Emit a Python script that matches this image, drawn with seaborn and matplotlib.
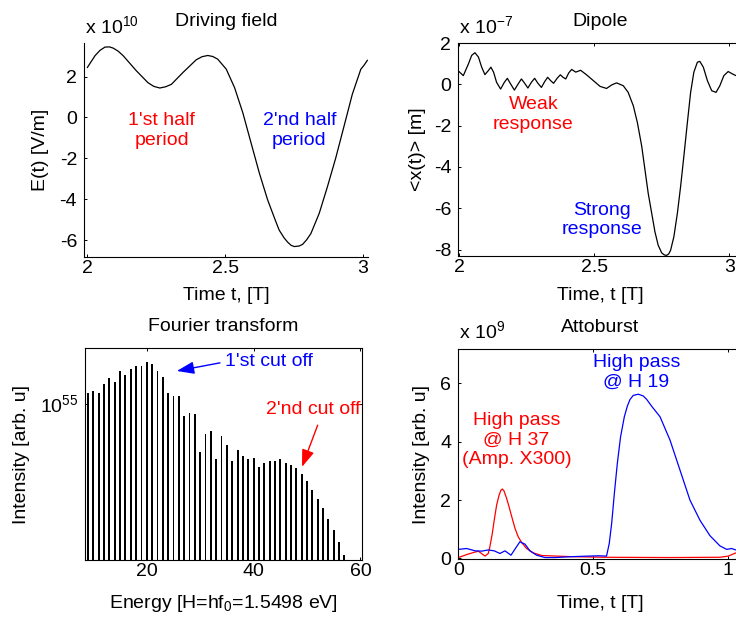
import numpy as np
import pandas as pd
import matplotlib
matplotlib.use("Agg")
import matplotlib.pyplot as plt
import seaborn as sns
from matplotlib.ticker import NullLocator
from matplotlib.transforms import ScaledTranslation

# ---------------- data ----------------
field_t = [2.000, 2.028, 2.046, 2.064, 2.080, 2.094, 2.112, 2.130, 2.178, 2.220, 2.241,
           2.263, 2.284, 2.305, 2.347, 2.395, 2.416, 2.437, 2.455, 2.473, 2.504, 2.534,
           2.564, 2.594, 2.624, 2.654, 2.684, 2.696, 2.714, 2.727, 2.739, 2.751, 2.769,
           2.781, 2.796, 2.811, 2.841, 2.871, 2.901, 2.931, 2.961, 2.992, 3.004, 3.016]
field_E = [2.44, 3.02, 3.28, 3.44, 3.45, 3.39, 3.24, 3.02, 2.28, 1.70, 1.52,
           1.44, 1.50, 1.62, 2.20, 2.82, 2.97, 3.03, 2.98, 2.85, 2.36, 1.46,
           0.23, -1.25, -2.72, -4.03, -5.10, -5.51, -5.89, -6.10, -6.25, -6.31, -6.28,
           -6.20, -5.97, -5.67, -4.69, -3.38, -1.98, -0.43, 1.13, 2.36, 2.56, 2.80]

dipole_t = [2.000, 2.016, 2.035, 2.047, 2.059, 2.072, 2.084, 2.096, 2.109, 2.118, 2.128,
            2.139, 2.154, 2.168, 2.179, 2.191, 2.205, 2.219, 2.231, 2.243, 2.255, 2.268,
            2.280, 2.292, 2.305, 2.317, 2.328, 2.339, 2.350, 2.363, 2.375, 2.385, 2.395,
            2.406, 2.417, 2.432, 2.450, 2.472, 2.497, 2.522, 2.546, 2.565, 2.583, 2.608,
            2.626, 2.645, 2.660, 2.676, 2.688, 2.700, 2.713, 2.725, 2.737, 2.750, 2.760,
            2.768, 2.776, 2.783, 2.795, 2.808, 2.820, 2.832, 2.845, 2.857, 2.869, 2.882,
            2.891, 2.904, 2.919, 2.935, 2.951, 2.965, 2.980, 2.996, 3.012, 3.025]
dipole_x = [0.62, 0.42, 0.99, 1.40, 1.53, 1.32, 0.83, 0.47, 0.67, 0.83, 0.59,
            0.10, -0.23, 0.10, 0.29, 0.02, -0.28, 0.02, 0.26, 0.05, -0.18, 0.10,
            0.29, 0.05, -0.15, 0.13, 0.34, 0.18, 0.05, 0.29, 0.46, 0.34, 0.26,
            0.55, 0.72, 0.59, 0.68, 0.46, 0.18, -0.10, -0.20, -0.03, 0.07, -0.07,
            -0.39, -1.04, -1.85, -2.99, -4.13, -5.27, -6.24, -7.14, -7.79, -8.16, -8.26,
            -8.28, -8.21, -8.03, -7.38, -6.24, -4.94, -3.48, -1.85, -0.39, 0.59, 1.07,
            1.11, 0.83, 0.18, -0.31, -0.39, -0.07, 0.42, 0.62, 0.50, 0.42]

harmonic_order = list(range(9, 58))
spectrum_log10 = [55.06, 55.07, 55.06, 55.11, 55.14, 55.12, 55.18, 55.16, 55.19, 55.21,
                  55.21, 55.23, 55.22, 55.18, 55.15, 55.06, 55.04, 55.04, 54.93, 54.95,
                  54.94, 54.73, 54.83, 54.85, 54.69, 54.82, 54.77, 54.68, 54.74, 54.71,
                  54.69, 54.70, 54.65, 54.67, 54.68, 54.68, 54.69, 54.67, 54.66, 54.64,
                  54.61, 54.57, 54.52, 54.47, 54.42, 54.36, 54.30, 54.23, 54.16]

h19_t = [0.000, 0.031, 0.062, 0.086, 0.111, 0.133, 0.154, 0.173, 0.195, 0.228, 0.247,
         0.265, 0.290, 0.321, 0.358, 0.420, 0.481, 0.520, 0.549, 0.559, 0.568, 0.578,
         0.589, 0.601, 0.615, 0.626, 0.636, 0.648, 0.667, 0.685, 0.698, 0.716, 0.747,
         0.784, 0.821, 0.858, 0.895, 0.932, 0.969, 0.994, 1.012, 1.028]
h19_I = [0.31, 0.34, 0.26, 0.25, 0.29, 0.26, 0.17, 0.26, 0.11, 0.57, 0.49,
         0.26, 0.11, 0.03, 0.03, 0.06, 0.08, 0.09, 0.08, 0.51, 1.20, 2.23,
         3.26, 4.17, 4.86, 5.22, 5.45, 5.59, 5.63, 5.57, 5.45, 5.22, 4.86,
         4.06, 3.03, 2.00, 1.31, 0.78, 0.43, 0.31, 0.34, 0.29]

h37_t = [0.000, 0.037, 0.074, 0.099, 0.111, 0.117, 0.126, 0.133, 0.142, 0.151, 0.158,
         0.163, 0.169, 0.179, 0.188, 0.198, 0.210, 0.222, 0.235, 0.253, 0.278, 0.309,
         0.420, 0.537, 0.784, 0.969, 1.000, 1.028]
h37_I = [0.03, 0.15, 0.25, 0.08, 0.17, 0.40, 0.86, 1.31, 1.83, 2.17, 2.34,
         2.38, 2.32, 2.06, 1.77, 1.43, 1.03, 0.74, 0.54, 0.34, 0.19, 0.10,
         0.06, 0.04, 0.03, 0.04, 0.08, 0.19]

# ---------------- style ----------------
sns.set_theme(style="ticks")
plt.rcParams.update({
    "font.size": 14,
    "axes.linewidth": 0.8,
    "axes.edgecolor": "black",
    "axes.labelcolor": "black",
    "text.color": "black",
    "xtick.color": "black",
    "ytick.color": "black",
    "xtick.direction": "in",
    "ytick.direction": "in",
    "xtick.major.size": 2.5,
    "ytick.major.size": 2.5,
    "xtick.major.width": 0.7,
    "ytick.major.width": 0.7,
    "xtick.labelsize": 14,
    "ytick.labelsize": 14,
    "axes.labelsize": 14,
    "axes.titlesize": 14,
    "axes.unicode_minus": False,
    "mathtext.fontset": "custom",
    "mathtext.rm": "Liberation Sans",
    "mathtext.it": "Liberation Sans:italic",
    "mathtext.bf": "Liberation Sans:bold",
})
plt.rcParams["font.family"] = ["Liberation Sans", "DejaVu Sans"]

W, H = 736, 621
fig = plt.figure(figsize=(W / 100, H / 100), dpi=100)


def add_ax(left, top, width, height):
    return fig.add_axes([left / W, 1 - (top + height) / H, width / W, height / H])


ax1 = add_ax(84, 43, 284, 214)
ax2 = add_ax(458.3, 43, 284, 213)
ax3 = add_ax(85, 348.3, 277, 212)
ax4 = add_ax(458.3, 349.3, 284, 210)

RED = "#ff0000"
BLUE = "#0000ff"


def scale_text(ax, s, up_px):
    off = ScaledTranslation(1 / 100, up_px / 100, fig.dpi_scale_trans)
    ax.text(0, 1, s, transform=ax.transAxes + off, ha="left", va="baseline", fontsize=14)


def labels(ax, xl, yl, xly, ylx):
    ax.set_xlabel(xl, va="center")
    ax.xaxis.set_label_coords(0.5, xly)
    ax.set_ylabel(yl, va="center")
    ax.yaxis.set_label_coords(ylx, 0.5)


for ax in (ax1, ax2, ax3, ax4):
    ax.tick_params(axis="x", pad=2.2)
    ax.tick_params(axis="y", pad=5)

# ---- panel 1: driving field ----
sns.lineplot(x=field_t, y=field_E, color="black", lw=0.9, ax=ax1)
ax1.set_xlim(1.988, 3.018)
ax1.set_ylim(-6.82, 3.64)
ax1.set_xticks([2, 2.5, 3], ["2", "2.5", "3"])
ax1.set_yticks([-6, -4, -2, 0, 2], ["-6", "-4", "-2", "0", "2"])
ax1.spines["top"].set_visible(False)
ax1.spines["right"].set_visible(False)
ax1.set_title("Driving field", pad=12.3)
labels(ax1, "Time t, [T]", "E(t) [V/m]", -0.178, -0.152)
scale_text(ax1, r"x 10$^{10}$", 9.7)
ax1.text(2.27, -0.65, "1'st half\nperiod", color=RED, ha="center", va="center", fontsize=14)
ax1.text(2.769, -0.65, "2'nd half\nperiod", color=BLUE, ha="center", va="center", fontsize=14)

# ---- panel 2: dipole ----
sns.lineplot(x=dipole_t, y=dipole_x, color="black", lw=0.9, ax=ax2)
ax2.set_xlim(1.9975, 1.9975 + 284 / 270.3)
ax2.set_ylim(-8.31, 2.0)
ax2.set_xticks([2, 2.5, 3], ["2", "2.5", "3"])
ax2.set_yticks([-8, -6, -4, -2, 0, 2], ["-8", "-6", "-4", "-2", "0", "2"])
ax2.tick_params(top=True)
ax2.set_title("Dipole", pad=12.3)
labels(ax2, "Time, t [T]", "<x(t)> [m]", -0.184, -0.144)
scale_text(ax2, r"x 10$^{-7}$", 9.7)
ax2.text(2.275, -1.47, "Weak\nresponse", color=RED, ha="center", va="center", fontsize=14)
ax2.text(2.530, -6.56, "Strong\nresponse", color=BLUE, ha="center", va="center", fontsize=14)

# ---- panel 3: Fourier transform ----
spec_df = pd.DataFrame({"H": harmonic_order, "I": 10.0 ** np.array(spectrum_log10)})
sns.barplot(data=spec_df, x="H", y="I", native_scale=True, color="black",
            saturation=1, width=0.35, linewidth=0, errorbar=None, ax=ax3)
ax3.set_yscale("log")
ax3.set_xlim(8.43, 60.3)
ax3.set_ylim(10 ** 54.129, 10 ** 55.307)
ax3.set_xticks([20, 40, 60], ["20", "40", "60"])
ax3.set_yticks([1e55], [r"10$^{55}$"])
ax3.yaxis.set_minor_locator(NullLocator())
ax3.xaxis.set_minor_locator(NullLocator())
ax3.tick_params(top=True, right=True)
ax3.set_title("Fourier transform", pad=12.7)
labels(ax3, r"Energy [H=hf$_0$=1.5498 eV]", "Intensity [arb. u]", -0.205, -0.229)
ax3.annotate("1'st cut off", xy=(25.63, 10 ** 55.181), xytext=(42.8, 10 ** 55.231),
             color=BLUE, ha="center", va="center", fontsize=14,
             arrowprops=dict(arrowstyle="-|>,head_length=0.75,head_width=0.27",
                             color=BLUE, lw=1, relpos=(0, 0.5), shrinkA=1, shrinkB=0))
ax3.annotate("2'nd cut off", xy=(49.06, 10 ** 54.648), xytext=(51.09, 10 ** 54.967),
             color=RED, ha="center", va="center", fontsize=14,
             arrowprops=dict(arrowstyle="-|>,head_length=0.75,head_width=0.27",
                             color=RED, lw=1, relpos=(0.58, 0), shrinkA=3, shrinkB=0))

# ---- panel 4: attoburst ----
sns.lineplot(x=h37_t, y=h37_I, color=RED, lw=0.9, ax=ax4)
sns.lineplot(x=h19_t, y=h19_I, color=BLUE, lw=0.9, ax=ax4)
ax4.set_xlim(0, 284 / 270.0)
ax4.set_ylim(-0.03, 7.17)
ax4.set_xticks([0, 0.5, 1], ["0", "0.5", "1"])
ax4.set_yticks([0, 2, 4, 6], ["0", "2", "4", "6"])
ax4.tick_params(top=True)
ax4.set_title("Attoburst", pad=12.7)
labels(ax4, "Time, t [T]", "Intensity [arb. u]", -0.21, -0.129)
scale_text(ax4, r"x 10$^{9}$", 11)
ax4.text(0.659, 6.38, "High pass\n@ H 19", color=BLUE, ha="center", va="center", fontsize=14)
ax4.text(0.216, 4.06, "High pass\n@ H 37\n(Amp. X300)", color=RED, ha="center", va="center", fontsize=14)

fig.savefig("out.png", dpi=100)
